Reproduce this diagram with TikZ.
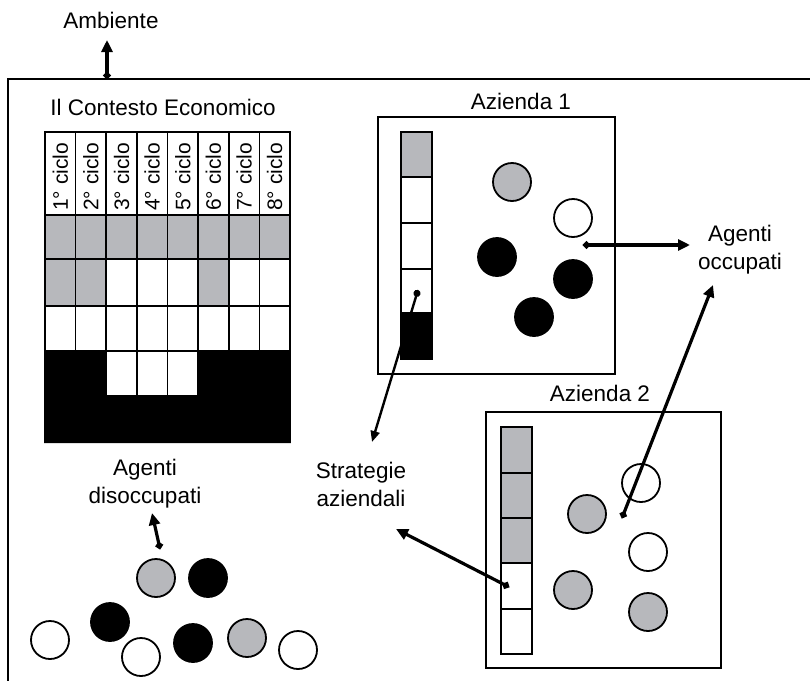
\documentclass[tikz,border=0pt]{standalone}
\usepackage{fontspec}
\setmainfont{Liberation Sans}
\usetikzlibrary{arrows.meta}
\definecolor{cellgray}{RGB}{183,184,188}
\begin{document}
\begin{tikzpicture}[x=1pt,y=-1pt,
  lbl/.style={font=\fontsize{22.5}{28}\selectfont, align=center, inner sep=0pt},
  hdr/.style={font=\fontsize{21}{24}\selectfont, rotate=90, anchor=west, inner sep=0pt},
  cellw/.style={draw=black, line width=1.6pt, fill=white},
  cellg/.style={draw=black, line width=1.6pt, fill=cellgray},
  cellb/.style={draw=black, line width=1.6pt, fill=black},
  frame/.style={draw=black, line width=1.8pt},
  agw/.style={circle, draw=black, line width=1.8pt, minimum size=38pt, inner sep=0pt, fill=white},
  agg/.style={agw, fill=cellgray},
  agb/.style={agw, fill=black},
  conn/.style={line width=3.2pt, {Circle[length=7pt]}-{Triangle[length=12pt,width=11pt]}},
  connthin/.style={line width=2.4pt, {Circle[length=7pt]}-{Triangle[length=11pt,width=9pt]}}]
\useasboundingbox (0,0) rectangle (810,680);
\fill[white] (0,0) rectangle (810,680);

% outer environment frame
\draw[frame] (8,681) -- (8,79) -- (811,79);

% texts
\node[lbl] (amb) at (111,20) {Ambiente};
\node[lbl] (ctx) at (163,107) {Il Contesto Economico};
\node[lbl] (az1lbl) at (521,101) {Azienda 1};
\node[lbl] (az2lbl) at (600,393) {Azienda 2};
\node[lbl] (occ) at (740,250) {Agenti\\occupati};
\node[lbl] (dis) at (145,484) {Agenti\\disoccupati};
\node[lbl] (str) at (361,484) {Strategie\\aziendali};

% economic context grid
\foreach \i in {0,...,7} {
  \draw[cellw] ({45+30.625*\i},132) rectangle ({45+30.625*(\i+1)},215);
  \draw[cellg] ({45+30.625*\i},215) rectangle ({45+30.625*(\i+1)},259);
  \draw[cellw] ({45+30.625*\i},306) rectangle ({45+30.625*(\i+1)},351);
}
\foreach \i in {0,1,5} \draw[cellg] ({45+30.625*\i},259) rectangle ({45+30.625*(\i+1)},306);
\foreach \i in {2,3,4,6,7} \draw[cellw] ({45+30.625*\i},259) rectangle ({45+30.625*(\i+1)},306);
\foreach \i in {2,3,4} \draw[cellw] ({45+30.625*\i},351) rectangle ({45+30.625*(\i+1)},396);
\fill[black] (44.2,351) -- (106.25,351) -- (106.25,396) -- (197.1,396) -- (197.1,351)
  -- (290.8,351) -- (290.8,443) -- (44.2,443) -- cycle;
\foreach \n in {1,...,8}
  \node[hdr] (h\n) at ({45+30.625*(\n-0.5)},211) {\n° ciclo};

% Azienda 1
\draw[frame] (378,117) rectangle (615,374);
\draw[cellg] (401,132) rectangle (432,177);
\draw[cellw] (401,177) rectangle (432,223);
\draw[cellw] (401,223) rectangle (432,269);
\draw[cellw] (401,269) rectangle (432,313);
\draw[cellb] (401,313) rectangle (432,359);
\node[agg] (a1) at (512,182) {};
\node[agw] (a2) at (573,218) {};
\node[agb] (a3) at (497,257) {};
\node[agb] (a4) at (573,279) {};
\node[agb] (a5) at (534,317) {};

% Azienda 2
\draw[frame] (486,412) rectangle (721,668);
\draw[cellg] (501,427) rectangle (532,473);
\draw[cellg] (501,473) rectangle (532,518);
\draw[cellg] (501,518) rectangle (532,563);
\draw[cellw] (501,563) rectangle (532,609);
\draw[cellw] (501,609) rectangle (532,654);
\node[agw] (b1) at (641,483) {};
\node[agg] (b2) at (587,514) {};
\node[agw] (b3) at (648,552) {};
\node[agg] (b4) at (573,590) {};
\node[agg] (b5) at (648,612) {};

% unemployed agents
\node[agg] (u1) at (156,578) {};
\node[agb] (u2) at (208,578) {};
\node[agb] (u3) at (110,622) {};
\node[agw] (u4) at (50,640) {};
\node[agw] (u5) at (141,657) {};
\node[agb] (u6) at (193,643) {};
\node[agg] (u7) at (247,638) {};
\node[agw] (u8) at (298,650) {};

% connector end points
\coordinate (ambdot) at (107,79);
\coordinate (ambtip) at (107,40);
\coordinate (az1dot) at (583,245);
\coordinate (occtipa) at (690,245);
\coordinate (az2dot) at (622,518);
\coordinate (occtipb) at (713,285);
\coordinate (s1dot) at (418,290);
\coordinate (strtipa) at (372,442);
\coordinate (s2dot) at (509,587);
\coordinate (strtipb) at (396,529);
\coordinate (disdot) at (160,549);
\coordinate (distip) at (152,513);

% connectors
\draw[conn] (ambdot) -- (ambtip);
\draw[conn] (az1dot) -- (occtipa);
\draw[conn] (az2dot) -- (occtipb);
\draw[connthin] (s1dot) -- (strtipa);
\draw[conn] (s2dot) -- (strtipb);
\draw[conn] (disdot) -- (distip);
\end{tikzpicture}
\end{document}
